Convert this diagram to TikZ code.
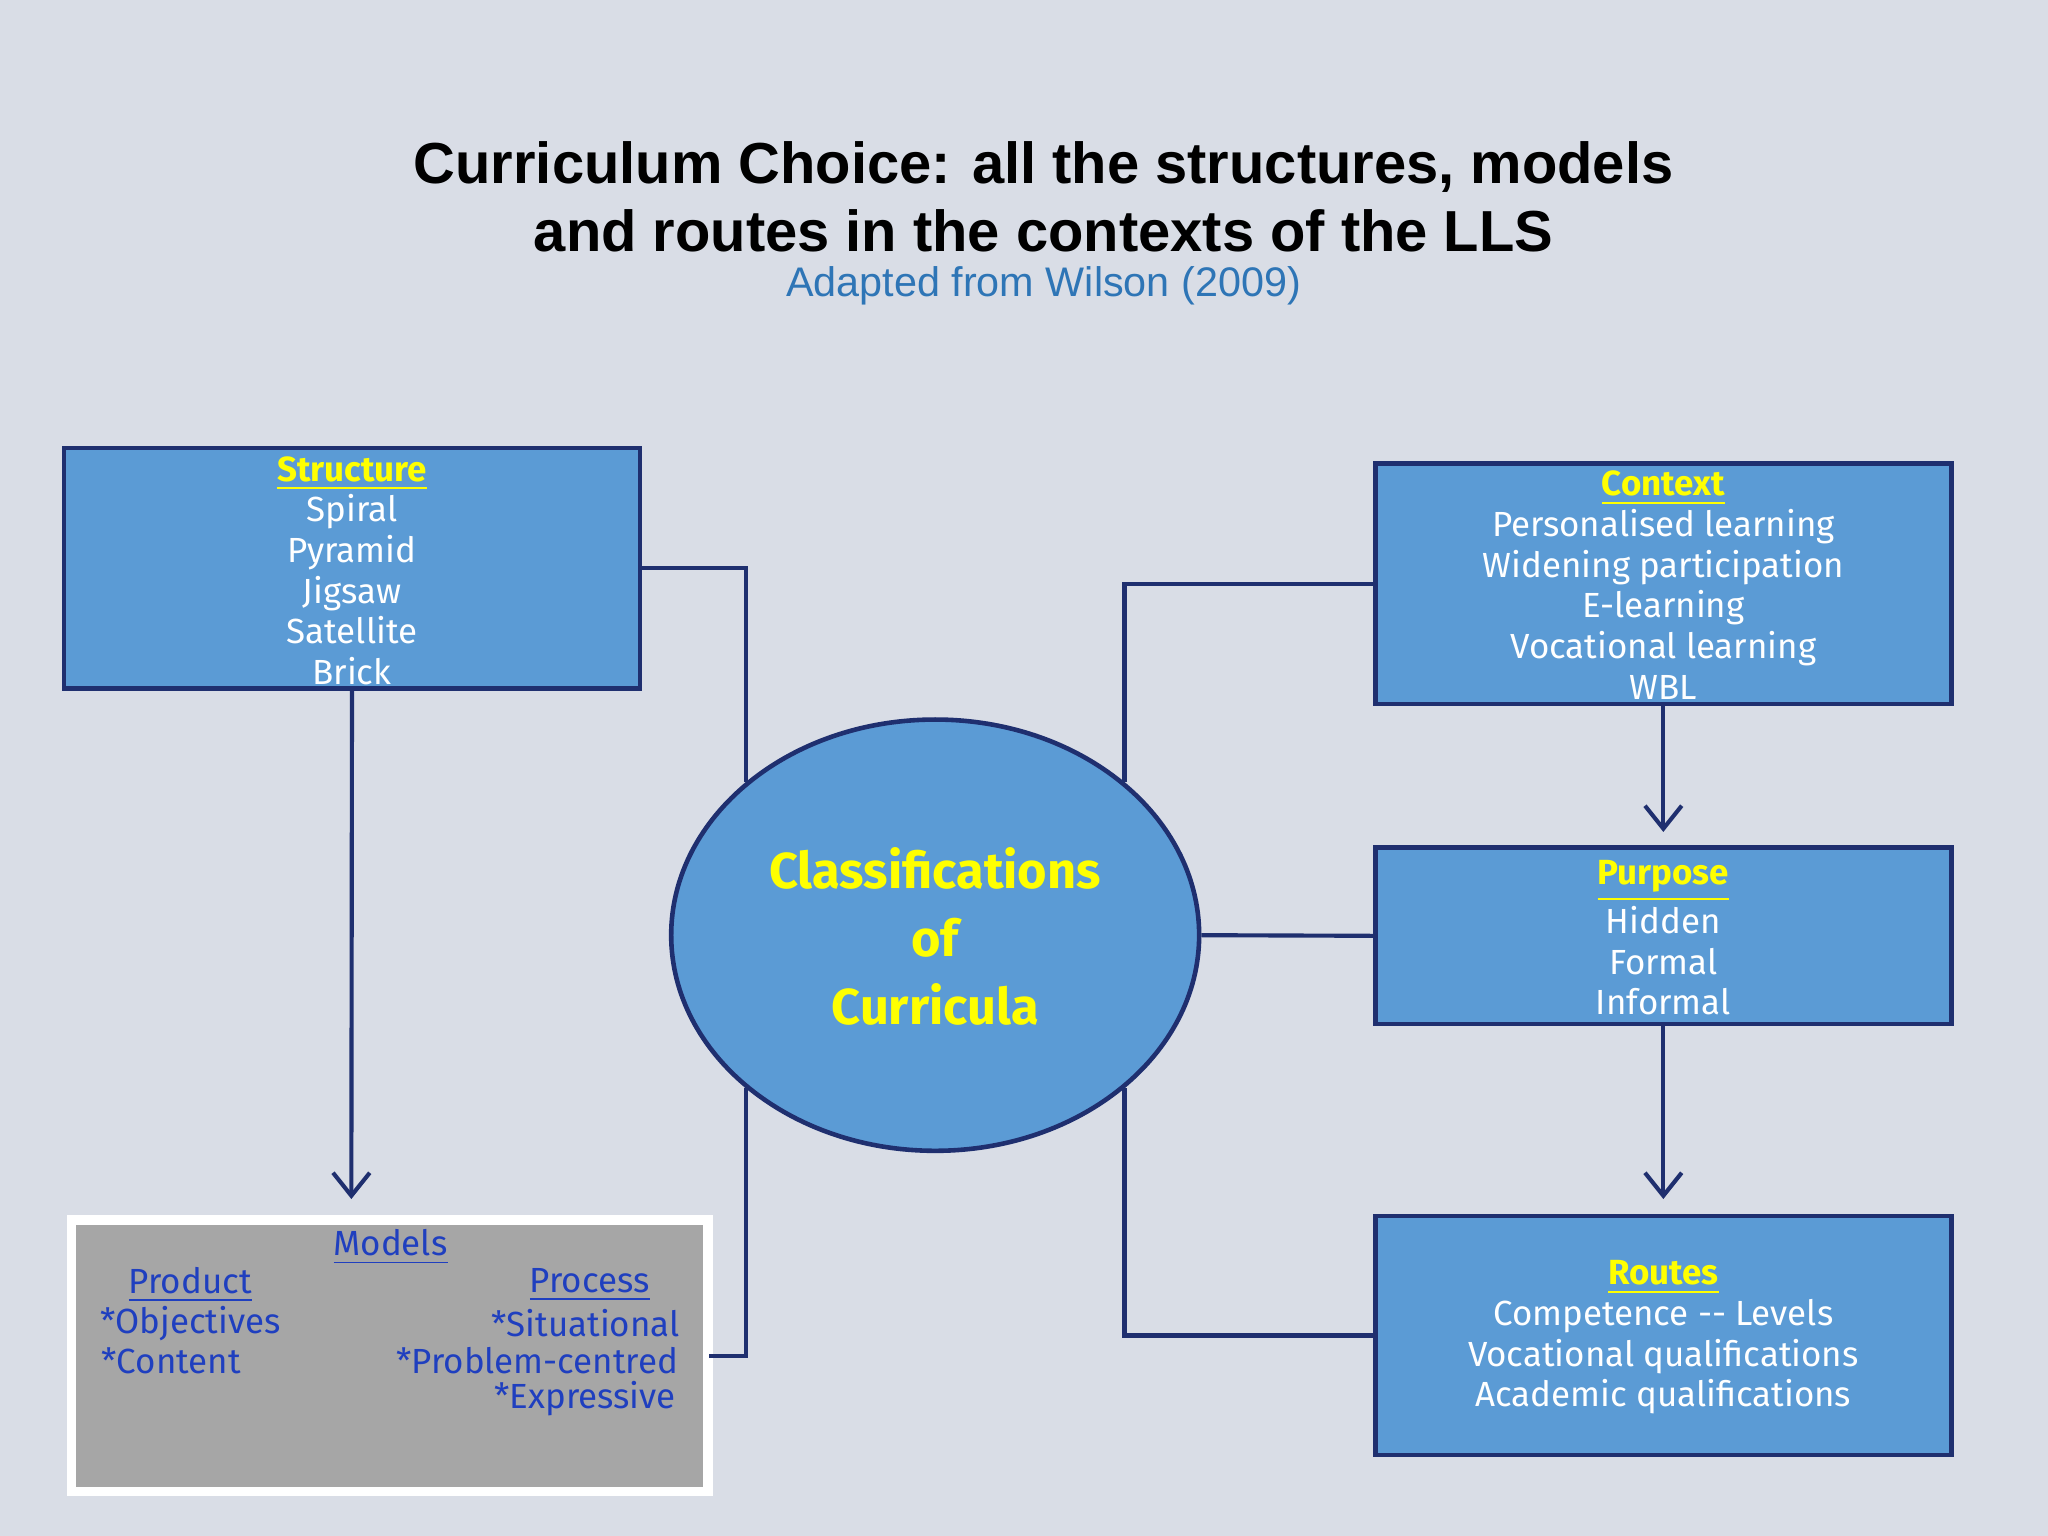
\documentclass[tikz,border=0pt]{standalone}
\usepackage{fontspec}
\setmainfont{Liberation Sans}
\newfontfamily\comic{Fira Sans}
\usetikzlibrary{shapes.geometric,arrows.meta}
\definecolor{bgc}{HTML}{D9DDE6}
\definecolor{boxc}{HTML}{5B9BD5}
\definecolor{navy}{HTML}{1F2F6F}
\definecolor{subc}{HTML}{2E75B6}
\definecolor{ylw}{HTML}{FFFF00}
\definecolor{mblue}{HTML}{1F3FBF}
\definecolor{grayc}{HTML}{A6A6A6}
\tikzset{
  bx/.style={draw=navy,line width=1pt,fill=boxc,inner sep=0pt},
  txt/.style={font=\comic\fontsize{7.6}{8.85}\selectfont,text=white,align=center},
  conn/.style={draw=navy,line width=0.9pt},
  arr/.style={conn,-{Straight Barb[length=5pt,width=8pt]}},
  mt/.style={font=\comic\fontsize{7.6}{8.2}\selectfont,text=mblue,inner sep=0pt}
}
\begin{document}
\begin{tikzpicture}[x=0.01cm,y=-0.01cm]
\fill[bgc] (0,0) rectangle (1568,1176);
\node[font=\bfseries\fontsize{12.6}{14.8}\selectfont,align=center] (title) at (799,151) {Curriculum Choice: all the structures, models\\and routes in the contexts of the LLS};
\node[font=\fontsize{9}{10}\selectfont,text=subc] (sub) at (799,219) {Adapted from Wilson (2009)};
% boxes
\draw[bx] (49,343) rectangle (490,527);
\node (s) at (269.5,435) [minimum width=4.41cm,minimum height=1.84cm] {};
\node[txt] at (269.5,437) {\textcolor{ylw}{\textbf{\underline{Structure}}}\\Spiral\\Pyramid\\Jigsaw\\Satellite\\Brick};
\draw[bx] (1053,355) rectangle (1494,539);
\node (c) at (1273.5,447) [minimum width=4.41cm,minimum height=1.84cm] {};
\node[txt] at (1273.5,448) {\textcolor{ylw}{\textbf{\underline{Context}}}\\Personalised learning\\Widening participation\\E-learning\\Vocational learning\\WBL};
\draw[bx] (1053,649) rectangle (1494,784);
\node (p) at (1273.5,716.5) [minimum width=4.41cm,minimum height=1.35cm] {};
\node[txt] at (1273.5,718) {\textcolor{ylw}{\textbf{\underline{Purpose}}}\\Hidden\\Formal\\Informal};
\draw[bx] (1053,931) rectangle (1494,1114);
\node (r) at (1273.5,1022.5) [minimum width=4.41cm,minimum height=1.83cm] {};
\node[txt] at (1273.5,1024) {\textcolor{ylw}{\textbf{\underline{Routes}}}\\Competence -- Levels\\Vocational qualifications\\Academic qualifications};
% ellipse
\node[ellipse,draw=navy,line width=1pt,fill=boxc,minimum width=4.04cm,minimum height=3.3cm,inner sep=0pt] (e) at (716,716) {};
\node[font=\comic\bfseries\fontsize{11}{14.8}\selectfont,text=ylw,align=center] at (716,717) {Classifications\\of\\Curricula};
% models
\draw[draw=white,line width=2pt,fill=grayc] (55,934) rectangle (542,1142);
\node (m) at (298.5,1038) [minimum width=4.87cm,minimum height=2.08cm] {};
\node[mt] at (299,955) {\underline{Models}};
\node[mt,anchor=west] at (98,984) {\underline{Product}};
\node[mt,anchor=west] at (76,1013) {*Objectives};
\node[mt,anchor=west] at (77,1042) {*Content};
\node[mt,anchor=east] at (498,984) {\underline{Process}};
\node[mt,anchor=east] at (521,1013) {*Situational};
\node[mt,anchor=east] at (520,1042) {*Problem-centred};
\node[mt,anchor=east] at (518,1071) {*Expressive};
% connectors
\draw[conn] (s.east) -| (e.141);
\draw[conn] (c.west) -| (e.39);
\draw[conn] (e.east) -- (p.west);
\draw[conn] (e.321) |- (r.west);
\draw[conn] (e.219) |- (m.east);
\coordinate (a1) at (269,918);
\coordinate (a2) at (1273.5,637);
\coordinate (a3) at (1273.5,918);
\draw[arr] (s.south) -- (a1);
\draw[arr] (c.south) -- (a2);
\draw[arr] (p.south) -- (a3);
\end{tikzpicture}
\end{document}
